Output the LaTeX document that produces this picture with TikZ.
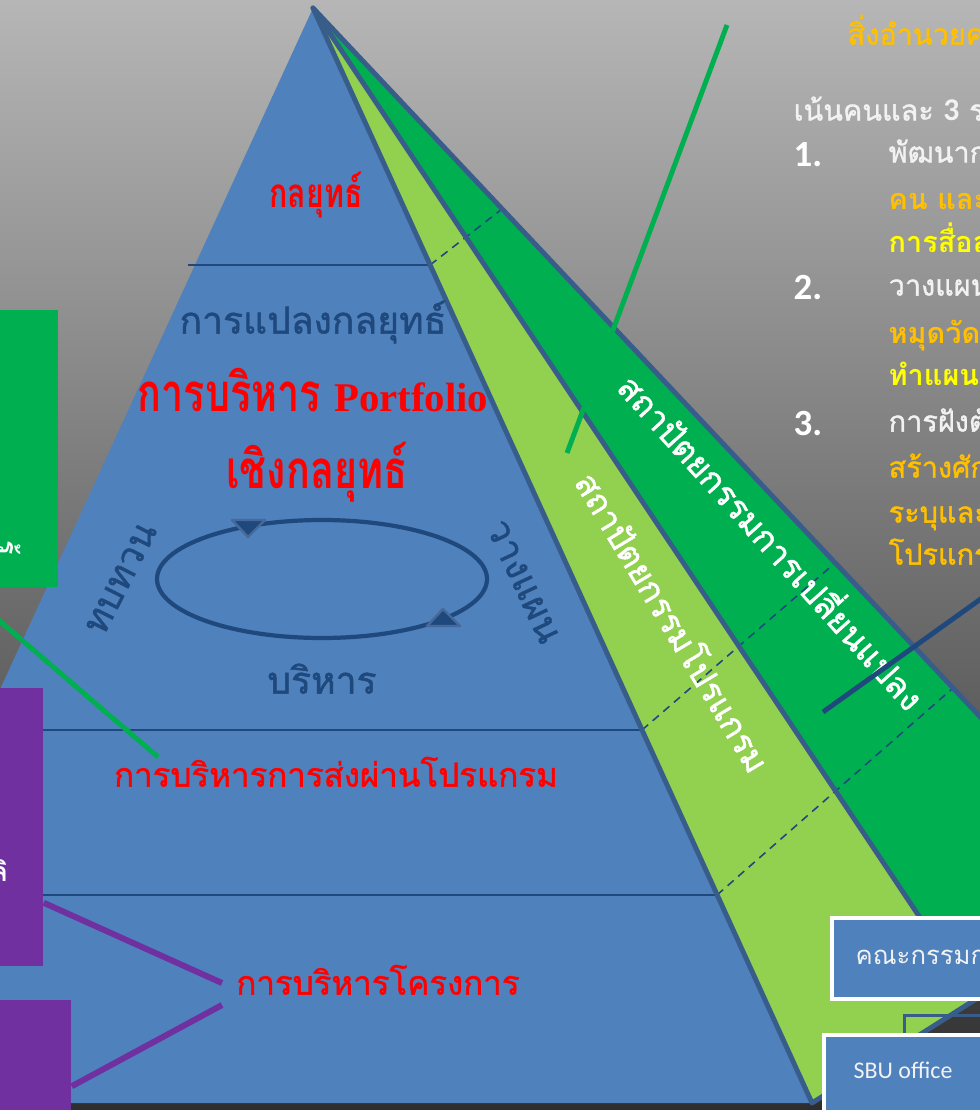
\documentclass[tikz,border=0pt]{standalone}
\usepackage{fontspec}
\usepackage{tikz}
\usetikzlibrary{calc}
\newfontfamily\thai[Script=Thai]{Loma}
\newfontfamily\thaimed[Script=Thai,FakeBold=1.2]{Loma}
\newfontfamily\thaihead[Script=Thai,FakeStretch=0.75]{Loma}
\newfontfamily\calib{Carlito}
\newfontfamily\tserif{Liberation Serif}
\newcommand\fsz[1]{\fontsize{#1}{#1}\selectfont}
\definecolor{bgtop}{RGB}{182,182,182}
\definecolor{bgbot}{RGB}{46,46,46}
\definecolor{pblue}{HTML}{4F81BD}
\definecolor{lgreen}{HTML}{92D050}
\definecolor{dgreen}{HTML}{00B050}
\definecolor{navy}{HTML}{1F497D}
\definecolor{edgeblue}{HTML}{385D8A}
\definecolor{tipblue}{HTML}{46699A}
\definecolor{ppurple}{HTML}{7030A0}
\definecolor{gold}{HTML}{FFC000}
\definecolor{lemon}{HTML}{FFFF00}
\definecolor{offwhite}{HTML}{F2F2F2}

\tikzset{
  tier/.style={draw=navy, line width=0.6pt},
  tierdash/.style={draw=navy, line width=0.45pt, dash pattern=on 2.3pt off 1.7pt},
  faceedge/.style={draw=edgeblue, line width=1.4pt, line join=round, line cap=round},
  thaitxt/.style={inner sep=0pt, text height=1ex, text depth=0pt},
  lvltxt/.style={thaitxt, text=navy, font=\thaimed\fsz{10.6}},
  redhead/.style={thaitxt, text=red, font=\thaihead\bfseries\fsz{15}},
  redtxt/.style={thaitxt, text=red, font=\thaimed\fsz{9.4}},
  bandtxt/.style={thaitxt, text=white, font=\thaimed\fsz{9.6}},
  rtxt/.style={thaitxt, anchor=west, font=\thaimed\fsz{8.2}},
  rbold/.style={rtxt, font=\thai\bfseries\fsz{8.2}},
  numtxt/.style={anchor=west, inner sep=0pt, text=white, font=\calib\bfseries\fsz{10.5}},
  gconn/.style={draw=dgreen, line width=1.4pt},
  nconn/.style={draw=navy, line width=1.4pt},
  pconn/.style={draw=ppurple, line width=1.7pt},
  sidebox/.style={rectangle, inner sep=0pt},
  wbox/.style={rectangle, fill=pblue, draw=white, line width=1.2pt, anchor=north west, minimum width=2cm},
  boxlbl/.style={thaitxt, anchor=west, text=offwhite, font=\thai\fsz{7.3}},
  cyc/.style={draw=navy, line width=1.2pt},
  cyctip/.style={fill=navy, draw=tipblue, line width=0.7pt, line join=round}
}

\begin{document}
\begin{tikzpicture}[x=0.01cm, y=-0.01cm]
\useasboundingbox (0,0) rectangle (980,1110);
\clip (0,0) rectangle (980,1110);
\fill[top color=bgtop, bottom color=bgbot] (0,0) rectangle (980,1110);

% pyramid corners
\coordinate (apex) at (313,8);
\coordinate (baseL) at (-190,1103);
\coordinate (baseA) at (812,1103);
\coordinate (baseB) at (975,1000);
\coordinate (baseC) at (1145,892);

\fill[pblue] (apex) -- (baseL) -- (baseA) -- cycle;
\fill[lgreen] (apex) -- (baseA) -- (baseB) -- cycle;
\fill[dgreen] (apex) -- (baseB) -- (baseC) -- cycle;

% levels
\draw[tier] (188,265) -- (430,265);
\draw[tier] (0,730) -- (642,730);
\draw[tier] (0,895) -- (717,895);
\draw[tierdash] (430,265) -- (502,209);
\draw[tierdash] (642,730) -- (835,563);
\draw[tierdash] (717,895) -- (953,688);

\draw[faceedge] (apex) -- (baseA) -- (baseC) -- cycle;
\draw[faceedge] (apex) -- (baseB);

% cycle
\draw[cyc] (322,579) ellipse [x radius=165, y radius=59];
\fill[cyctip] (232,520) -- (265,520) -- (248,537) -- cycle;
\fill[cyctip] (427,626) -- (460,626) -- (443,609) -- cycle;

\node[redhead, font=\thaihead\bfseries\fsz{11.5}] (strat) at (316,200) {กลยุทธ์};
\node[lvltxt] (transl) at (313,326) {การแปลงกลยุทธ์};
\node[redhead] (ppm) at (313,404) {การบริหาร {\tserif\fsz{11.6}Portfolio}};
\node[redhead] (ppmb) at (317,481) {เชิงกลยุทธ์};
\node[lvltxt, rotate=63] (review) at (124,580) {ทบทวน};
\node[lvltxt, rotate=-65] (plan) at (520,583) {วางแผน};
\node[lvltxt] (manage) at (322,686) {บริหาร};
\node[redtxt] (pgm) at (336,779) {การบริหารการส่งผ่านโปรแกรม};
\node[redtxt] (proj) at (378,987) {การบริหารโครงการ};
\node[bandtxt, rotate=-48] (chgarch) at (767,546) {สถาปัตยกรรมการเปลี่ยนแปลง};
\node[bandtxt, rotate=-59] (pgmarch) at (668,625) {สถาปัตยกรรมโปรแกรม};

% left boxes
\node[sidebox, fill=dgreen, minimum width=1.94cm, minimum height=2.77cm] (kmbox) at (-39,448.5) {};
\node[thaitxt, rotate=-90, text=white, font=\thai\bfseries\fsz{7.6}] (kmtxt) at (6,548) {รู้};
\node[sidebox, fill=ppurple, minimum width=0.63cm, minimum height=2.78cm] (pmo) at (11.5,827) {};
\node[thaitxt, anchor=east, text=white, font=\thai\bfseries\fsz{7.6}] (pmotxt) at (9,874) {ลิ};
\node[sidebox, fill=ppurple, minimum width=0.91cm, minimum height=1.2cm] (pmt) at (25.5,1060) {};

% connectors
\coordinate (gfoot) at (158,757);
\coordinate (gtop) at (727,25);
\coordinate (gtoe) at (567,453);
\coordinate (nfoot) at (823,712);
\coordinate (nhead) at (1010,578);
\coordinate (pj1) at (222,983);
\coordinate (pj2) at (222,1005);
\draw[gconn] (kmbox.south) -- (gfoot);
\draw[gconn] (gtop) -- (gtoe);
\draw[nconn] (nfoot) -- (nhead);
\draw[pconn] ($(pmo.south east)+(0,-64)$) -- (pj1);
\draw[pconn] ($(pmt.north east)+(0,87)$) -- (pj2);

% right text
\node[rtxt, text=gold] (title) at (847,37) {สิ่งอำนวยค};
\node[rtxt, text=offwhite] (focus) at (793,113) {เน้นคนและ {\calib\bfseries\fsz{9}3} ระ};
\node[numtxt] (n1) at (793,155) {1.};
\node[numtxt] (n2) at (793,288) {2.};
\node[numtxt] (n3) at (793,424) {3.};
\node[rtxt, text=offwhite] (r1) at (888,155) {พัฒนาก};
\node[rbold, text=gold] (r1a) at (888,202) {คน และ};
\node[rbold, text=lemon] (r1b) at (888,245) {การสื่อส};
\node[rtxt, text=offwhite] (r2) at (888,288) {วางแผน};
\node[rbold, text=gold] (r2a) at (888,336) {หมุดวัดเ};
\node[rbold, text=lemon] (r2b) at (888,378) {ทำแผนพิ};
\node[rtxt, text=offwhite] (r3) at (888,424) {การฝังตั};
\node[rtxt, text=gold] (r3a) at (888,470) {สร้างศัก};
\node[rtxt, text=gold] (r3b) at (888,515) {ระบุและ};
\node[rtxt, text=gold] (r3c) at (888,557) {โปรแกรม};

% boxes
\node[draw=edgeblue, line width=0.85pt, anchor=north west, minimum width=2cm, minimum height=1.5cm] (hidbox) at (903,1014) {};
\node[wbox, minimum height=0.81cm] (cmte) at (830,916) {};
\node[boxlbl] (cmtelbl) at (855,957) {คณะกรรมกา};
\node[wbox, minimum height=1cm] (sbu) at (822,1033) {};
\node[anchor=west, inner sep=0pt, text=offwhite, font=\calib\fsz{6.8}] (sbulbl) at (853,1070) {SBU office};
\end{tikzpicture}
\end{document}
